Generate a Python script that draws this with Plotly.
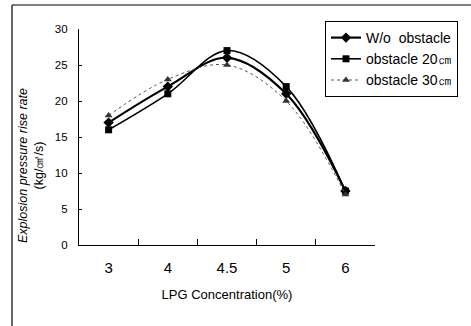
import plotly.graph_objects as go

categories = ["3", "4", "4.5", "5", "6"]
wo_obstacle = [17, 22, 26, 21, 7.5]
obstacle_20 = [16, 21, 27, 22, 7.5]
obstacle_30 = [18, 23, 25, 20, 7]
y_ticks = [0, 5, 10, 15, 20, 25, 30]

FONT = "Arial, Liberation Sans, sans-serif"
W, H = 471, 326
L, R, T, B = 79, 96, 29, 81
pw, ph = W - L - R, H - T - B

def px(x):
    return (x - L) / pw

def py(y):
    return (H - B - y) / ph

fig = go.Figure()
fig.add_trace(go.Scatter(
    x=categories, y=wo_obstacle, name="W/o  obstacle", mode="lines+markers",
    line=dict(color="black", width=2.2, shape="spline"),
    marker=dict(symbol="diamond", size=8, color="black")))
fig.add_trace(go.Scatter(
    x=categories, y=obstacle_20, name="obstacle 20㎝", mode="lines+markers",
    line=dict(color="black", width=1.6, shape="spline"),
    marker=dict(symbol="square", size=7, color="black")))
fig.add_trace(go.Scatter(
    x=categories, y=obstacle_30, name="obstacle 30㎝", mode="lines+markers",
    line=dict(color="#555555", width=1, dash="dot", shape="spline"),
    marker=dict(symbol="triangle-up", size=7, color="#333333")))

fig.update_layout(
    width=W, height=H,
    margin=dict(l=L, r=R, t=T, b=B),
    paper_bgcolor="white", plot_bgcolor="white",
    font=dict(family=FONT, color="black", size=12),
    showlegend=True,
    legend=dict(x=px(325), y=py(21), xanchor="left", yanchor="top",
                bordercolor="black", borderwidth=1, bgcolor="white",
                font=dict(size=14, family=FONT), tracegroupgap=0,
                itemwidth=30),
    xaxis=dict(type="category", range=[-0.5, 4.5], showline=True,
               linecolor="black", linewidth=1.2, ticks="inside",
               tickson="boundaries", ticklen=6, tickcolor="black",
               showgrid=False, zeroline=False,
               tickfont=dict(size=15, family=FONT), ticklabelstandoff=9,
               title=dict(text="LPG Concentration(%)", font=dict(size=13, family=FONT),
                          standoff=14)),
    yaxis=dict(range=[0, 30], tickvals=y_ticks, showline=True,
               linecolor="black", linewidth=1.2, ticks="inside", ticklen=3,
               tickcolor="black", showgrid=False, zeroline=False,
               tickfont=dict(size=11.5, family=FONT), ticklabelstandoff=8),
    annotations=[dict(
        text="<i>Explosion pressure rise rate</i><br>(kg/㎠/s)",
        xref="paper", yref="paper", x=px(31), y=py(166), textangle=-90,
        showarrow=False, font=dict(size=12.5, family=FONT), xanchor="center",
        yanchor="middle")],
    shapes=[
        dict(type="line", xref="paper", yref="paper", x0=px(12), x1=px(471),
             y0=py(5), y1=py(5), line=dict(color="black", width=1.2)),
        dict(type="line", xref="paper", yref="paper", x0=px(12), x1=px(12),
             y0=py(5), y1=py(326), line=dict(color="black", width=1.2)),
    ],
)

fig.write_html("out.html")
